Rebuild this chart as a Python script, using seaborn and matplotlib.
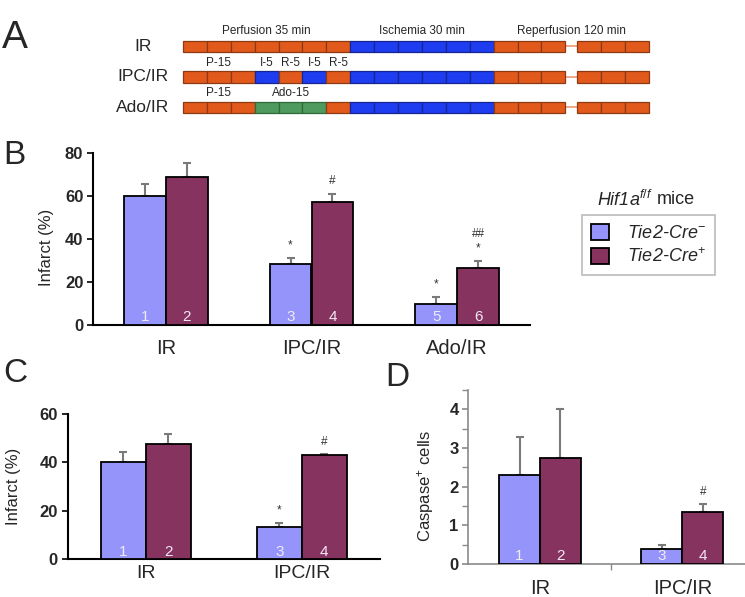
import numpy as np
import pandas as pd
import matplotlib
matplotlib.use("Agg")
import matplotlib.pyplot as plt
import seaborn as sns
from matplotlib.ticker import MultipleLocator

sns.set_theme(style="white")
plt.rcParams["font.family"] = ["Liberation Sans", "DejaVu Sans"]
plt.rcParams["mathtext.fontset"] = "custom"
plt.rcParams["mathtext.rm"] = "Liberation Sans"
plt.rcParams["mathtext.it"] = "Liberation Sans:italic"
plt.rcParams["mathtext.bf"] = "Liberation Sans:bold"

# ---------------- Panel A: protocol schematic ----------------
protocols = ["IR", "IPC/IR", "Ado/IR"]
ir_blocks = ["P"] * 7 + ["I"] * 6 + ["R"] * 3 + ["gap"] + ["R"] * 3
ipc_blocks = ["P"] * 3 + ["I", "P", "I", "P"] + ["I"] * 6 + ["R"] * 3 + ["gap"] + ["R"] * 3
ado_blocks = ["P"] * 3 + ["A"] * 3 + ["P"] + ["I"] * 6 + ["R"] * 3 + ["gap"] + ["R"] * 3
block_minutes = 5
gap_minutes = 2.5
phase_titles = ["Perfusion 35 min", "Ischemia 30 min", "Reperfusion 120 min"]
phase_spans = [(0, 7), (7, 13), (13, 20)]
ipc_steps = [("P-15", 0, 3), ("I-5", 3, 1), ("R-5", 4, 1), ("I-5", 5, 1), ("R-5", 6, 1)]
ado_steps = [("P-15", 0, 3), ("Ado-15", 3, 3)]

# ---------------- Panel B ----------------
groups_b = ["IR", "IPC/IR", "Ado/IR"]
genotypes = ["Tie2-Cre$^{-}$", "Tie2-Cre$^{+}$"]
b_neg = [60.0, 28.2, 9.8]
b_pos = [68.7, 57.0, 26.5]
b_neg_err = [5.5, 3.1, 3.1]
b_pos_err = [6.8, 4.0, 3.4]
b_neg_marks = [[], ["*"], ["*"]]
b_pos_marks = [[], ["#"], ["*", "##"]]

# ---------------- Panel C ----------------
groups_cd = ["IR", "IPC/IR"]
c_neg = [40.3, 13.2]
c_pos = [47.8, 43.1]
c_neg_err = [4.2, 1.9]
c_pos_err = [4.0, 0.2]
c_neg_marks = [[], ["*"]]
c_pos_marks = [[], ["#"]]

# ---------------- Panel D ----------------
d_neg = [2.30, 0.40]
d_pos = [2.75, 1.35]
d_neg_err = [0.99, 0.08]
d_pos_err = [1.25, 0.20]
d_neg_marks = [[], []]
d_pos_marks = [[], ["#"]]

bar_colors = ["#9494FA", "#86335F"]

fig = plt.figure(figsize=(7.45, 5.97), dpi=100)
W, H = 745.0, 597.0


def px_axes(l, t, r, b):
    return fig.add_axes([l / W, 1 - b / H, (r - l) / W, (b - t) / H])


# ---- Panel A ----
axA = px_axes(0, 0, 745, 130)
axA.set_xlim(-38.3, 117.6)
axA.set_ylim(2.74, -1.52)
axA.axis("off")
fill = {"P": "#E2591C", "R": "#E2591C", "I": "#1E3CF0", "A": "#4F9A5F"}
edge = {"P": "#8C3A12", "R": "#8C3A12", "I": "#16258F", "A": "#2F6A3A"}
rows = [ir_blocks, ipc_blocks, ado_blocks]
row_lefts = []
for r, blocks in enumerate(rows):
    left = 0.0
    lefts = []
    for kind in blocks:
        lefts.append(left)
        if kind == "gap":
            axA.plot([left, left + gap_minutes], [r, r], color="#F0A080", lw=1.3, zorder=1)
            left += gap_minutes
        else:
            axA.barh(r, block_minutes, left=left, height=0.38, color=fill[kind],
                     edgecolor=edge[kind], linewidth=0.9, zorder=2)
            left += block_minutes
    lefts.append(left)
    row_lefts.append(lefts)
    axA.text(-8.4, r, protocols[r], ha="center", va="center", fontsize=12.5)

lefts0 = row_lefts[0]
for title, (s, e) in zip(phase_titles, phase_spans):
    axA.text((lefts0[s] + lefts0[e]) / 2, -0.5, title, ha="center", va="center", fontsize=8.5)
for r, steps in [(1, ipc_steps), (2, ado_steps)]:
    lf = row_lefts[r]
    for txt, s, n in steps:
        axA.text((lf[s] + lf[s + n]) / 2, r - 0.46, txt, ha="center", va="center", fontsize=8.5)


# ---- bar panel helper ----
def bar_panel(ax, groups, neg, pos, neg_err, pos_err, neg_marks, pos_marks,
              ylim, yticks, ylabel, spine_color, lab_coords, xpad, cat_size):
    df = pd.DataFrame({
        "group": groups * 2,
        "genotype": [genotypes[0]] * len(groups) + [genotypes[1]] * len(groups),
        "value": list(neg) + list(pos),
    })
    sns.barplot(data=df, x="group", y="value", hue="genotype", order=groups,
                hue_order=genotypes, palette=bar_colors, width=0.575, saturation=1,
                edgecolor="black", linewidth=1.3, errorbar=None, legend=False,
                ax=ax, zorder=3)
    bar_conts = list(ax.containers)
    errs = [neg_err, pos_err]
    marks = [neg_marks, pos_marks]
    for h, cont in enumerate(bar_conts):
        for i, patch in enumerate(cont.patches):
            x = patch.get_x() + patch.get_width() / 2
            top = patch.get_height()
            e = errs[h][i]
            ax.errorbar(x, top, yerr=[[0], [e]], fmt="none", ecolor="#7A7A7A",
                        elinewidth=1.5, capsize=3, capthick=1.5, zorder=2)
            ax.annotate(str(2 * i + h + 1), (x, 0), xytext=(0, 5.5),
                        textcoords="offset points", ha="center", va="center",
                        fontsize=11, color="#F0EAF4", zorder=5)
            for k, m in enumerate(marks[h][i]):
                ax.annotate(m, (x, top + e), xytext=(0, 9 + 10 * k),
                            textcoords="offset points", ha="center", va="center",
                            fontsize=8.5, color="#333333")
    ax.set_ylim(*ylim)
    ax.set_xlim(-0.5, len(groups) - 0.5)
    ax.set_yticks(yticks)
    ax.set_yticklabels([str(t) for t in yticks], fontweight="bold", fontsize=12)
    ax.set_xticks(range(len(groups)))
    ax.set_xticklabels(groups, fontsize=cat_size)
    ax.tick_params(axis="x", length=0, pad=xpad)
    ax.tick_params(axis="y", left=True, length=4, width=1.2, color=spine_color, pad=3)
    ax.set_xlabel("")
    ax.set_ylabel(ylabel, fontsize=12, va="center")
    ax.yaxis.set_label_coords(*lab_coords)
    for side in ["top", "right"]:
        ax.spines[side].set_visible(False)
    for side in ["left", "bottom"]:
        ax.spines[side].set_color(spine_color)
        ax.spines[side].set_linewidth(1.5)
    ax.set_facecolor("none")
    return bar_conts


# ---- Panel B ----
axB = px_axes(93, 153, 530, 325)
b_conts = bar_panel(axB, groups_b, b_neg, b_pos, b_neg_err, b_pos_err, b_neg_marks, b_pos_marks,
                    (0, 80), [0, 20, 40, 60, 80], "Infarct (%)", "black", (-0.106, 0.45), 10, 14.5)

# ---- Panel C ----
axC = px_axes(67.7, 414, 380, 559.3)
bar_panel(axC, groups_cd, c_neg, c_pos, c_neg_err, c_pos_err, c_neg_marks, c_pos_marks,
          (0, 60), [0, 20, 40, 60], "Infarct (%)", "black", (-0.172, 0.5), 4, 14)

# ---- Panel D ----
axD = px_axes(468.3, 390, 745, 564)
bar_panel(axD, groups_cd, d_neg, d_pos, d_neg_err, d_pos_err, d_neg_marks, d_pos_marks,
          (0, 4.5), [0, 1, 2, 3, 4], "Caspase$^{+}$ cells", "#8A8A8A", (-0.153, 0.45), 11, 14.5)
axD.set_xlim(-0.504, 1.44)
axD.yaxis.set_minor_locator(MultipleLocator(0.5))
axD.tick_params(axis="y", which="minor", left=True, length=4, width=1.0, color="#8A8A8A")
axD.set_xticks([0.5], minor=True)
axD.tick_params(axis="x", which="minor", bottom=True, length=4, width=1.0, color="#8A8A8A")
for side in ["left", "bottom"]:
    axD.spines[side].set_linewidth(1.2)

# ---- Legend ----
handles = [b_conts[0].patches[0], b_conts[1].patches[0]]
leg = fig.legend(handles, genotypes, loc="upper left", bbox_to_anchor=(582 / W, 1 - 215 / H),
                 frameon=True, fancybox=False, edgecolor="#BBBBBB", framealpha=1,
                 prop={"style": "italic", "size": 13}, handlelength=1.0, handleheight=1.0,
                 handletextpad=1.0, labelspacing=0.3, borderpad=0.5, borderaxespad=0)
leg.get_frame().set_linewidth(1.2)
fig.text(653 / W, 1 - 200 / H, "Hif1a$^{f/f}$", ha="right", va="center",
         fontsize=13, style="italic")
fig.text(657 / W, 1 - 200 / H, "mice", ha="left", va="center", fontsize=13)

# ---- Panel letters ----
fig.text(15 / W, 1 - 38 / H, "A", ha="center", va="center", fontsize=28)
fig.text(14 / W, 1 - 156 / H, "B", ha="center", va="center", fontsize=24)
fig.text(15 / W, 1 - 374 / H, "C", ha="center", va="center", fontsize=24)
fig.text(397 / W, 1 - 378 / H, "D", ha="center", va="center", fontsize=24)

fig.savefig("out.png", dpi=100)
